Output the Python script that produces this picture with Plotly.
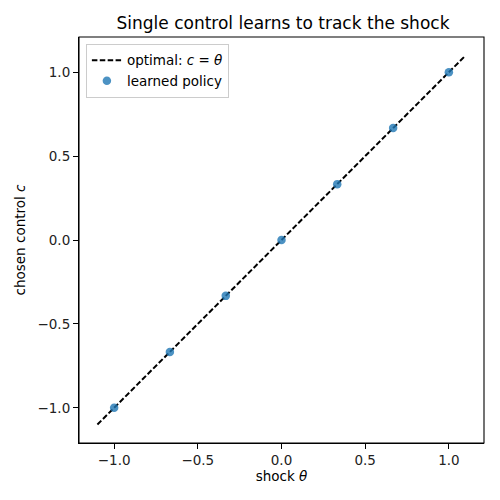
import plotly.graph_objects as go

# shock values and the controls the policy chose
theta = [-1.0, -0.667, -0.333, 0.0, 0.333, 0.667, 1.0]
learned_c = [-1.0, -0.667, -0.333, 0.0, 0.333, 0.667, 1.0]
line_theta = [-1.1, 1.1]
tick_vals = [-1.0, -0.5, 0.0, 0.5, 1.0]
tick_text = ['\u22121.0', '\u22120.5', '0.0', '0.5', '1.0']

font = 'DejaVu Sans'

trace_opt = go.Scatter(x=line_theta, y=line_theta, mode='lines',
                       name='optimal: <i>c</i> = <i>θ</i>',
                       line=dict(color='black', width=2, dash='5.5px,2.4px'))
trace_pol = go.Scatter(x=theta, y=learned_c, mode='markers',
                       name='learned policy',
                       marker=dict(color='#1f77b4', size=8.5, opacity=0.8,
                                   line=dict(width=0)))

axis_style = dict(range=[-1.21, 1.21], tickvals=tick_vals, ticktext=tick_text,
                  showgrid=False, zeroline=False, showline=True, mirror=False,
                  linecolor='black', linewidth=1.1, ticks='outside', ticklen=5,
                  tickwidth=1.1, tickcolor='black', automargin=False,
                  tickfont=dict(family=font, size=13.5, color='#222'))

layout = go.Layout(
    width=500, height=500,
    # page body adds ~8px, so pull the plot up/left a bit
    margin=dict(l=71, r=24, t=29, b=65),
    paper_bgcolor='white', plot_bgcolor='white',
    title=dict(text='Single control learns to track the shock', x=0.55, xanchor='center',
               y=0.97, yanchor='middle', automargin=False,
               font=dict(family=font, size=17, color='black')),
    xaxis=dict(title=dict(text='shock <i>θ</i>', font=dict(family=font, size=13.5, color='black'),
                          standoff=2), **axis_style),
    yaxis=dict(title=dict(text='chosen control <i>c</i>', font=dict(family=font, size=13.5, color='black'),
                          standoff=8), **axis_style),
    legend=dict(x=0.017, y=0.983, xanchor='left', yanchor='top',
                bgcolor='rgba(255,255,255,0.8)', bordercolor='#cccccc', borderwidth=1,
                font=dict(family=font, size=13.5, color='black'), itemwidth=30,
                tracegroupgap=0),
    shapes=[dict(type='rect', xref='paper', yref='paper', x0=0, x1=1, y0=0, y1=1,
                 line=dict(color='black', width=1.1), layer='above')],
    showlegend=True,
)

fig = go.Figure(data=[trace_opt, trace_pol], layout=layout)
fig.write_html('out.html')
